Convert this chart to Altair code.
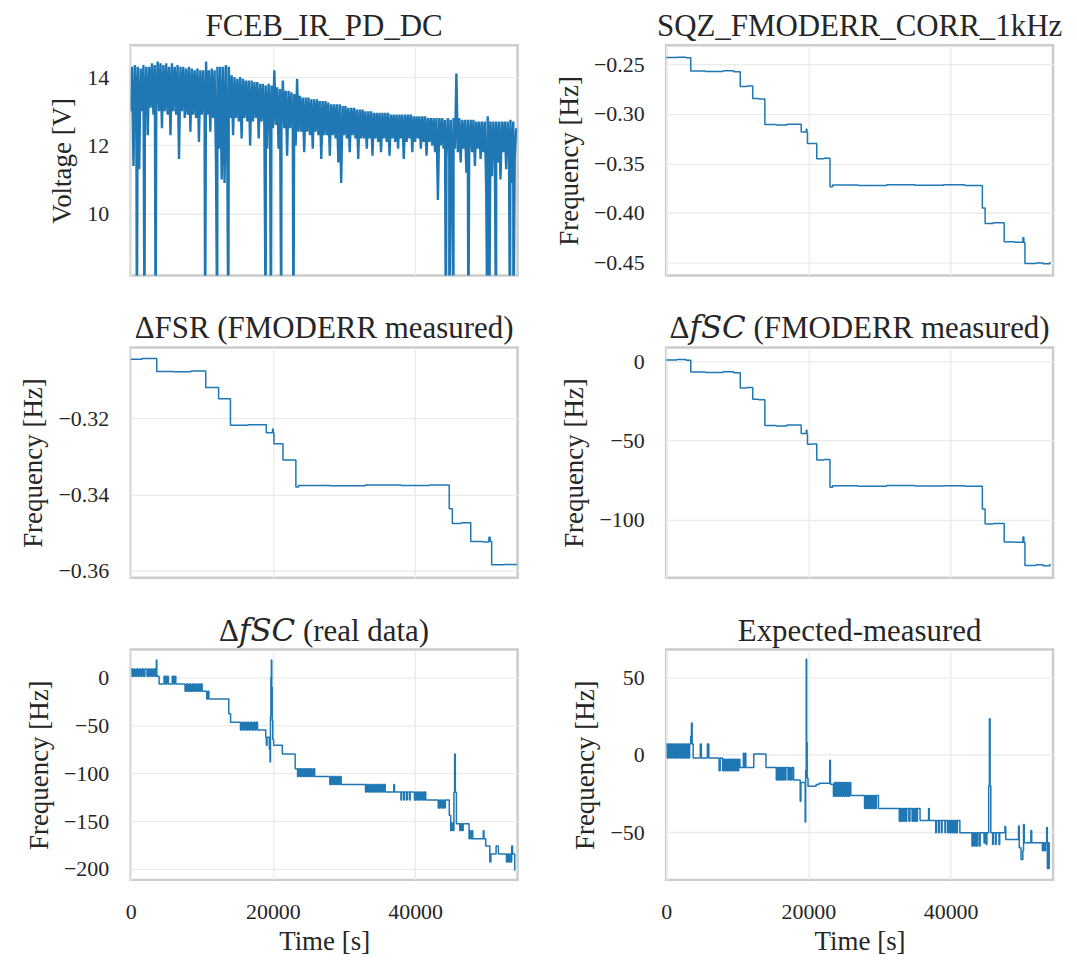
import altair as alt
import pandas as pd

FONT = "Liberation Serif"
TITLE_FONT = "Liberation Serif, DejaVu Serif, serif"
LINE = "#1f77b4"
TXT = "#262626"
X_DOMAIN = [0, 54400]
X_TICKS = [0, 20000, 40000]

# ---- FCEB_IR_PD_DC (noisy band) ----
# lower and upper excursions of the noisy trace, sampled alternately every 200 s
FCEB_LOW_T = list(range(0, 54400, 400))
FCEB_LOW = [13.0, 11.4, 13.1, 11.3, 13.0, 13.1, 12.3, 13.1, 12.9, 13.0,
            13.0, 12.5, 13.0, 12.9, 12.3, 13.0, 12.9, 11.6, 13.0, 12.8,
            12.9, 12.4, 12.9, 12.8, 12.1, 12.9, 12.8, 12.9, 12.4, 12.8,
            11.5, 11.9, 11.0, 10.9, 11.3, 12.8, 12.3, 12.8, 12.7, 12.2,
            12.8, 12.7, 12.0, 12.7, 12.8, 12.2, 12.7, 12.6, 11.9, 12.7,
            12.5, 12.6, 11.9, 12.5, 12.5, 11.7, 12.5, 12.4, 12.0, 12.4,
            12.4, 11.8, 12.4, 12.3, 11.9, 12.4, 12.3, 11.6, 12.3, 12.3,
            11.7, 12.3, 12.2, 11.5, 10.9, 12.3, 12.2, 11.8, 12.3, 12.2,
            11.6, 12.2, 12.2, 11.9, 12.2, 11.7, 12.2, 12.1, 11.8, 12.2,
            12.1, 11.7, 12.2, 12.1, 11.9, 12.2, 11.6, 12.1, 12.2, 11.8,
            12.1, 12.2, 11.9, 12.1, 11.7, 12.1, 12.0, 11.8, 10.4, 12.0,
            11.9, 11.6, 11.9, 11.3, 11.9, 11.8, 11.5, 11.9, 11.2, 11.9,
            11.8, 11.4, 11.9, 11.6, 11.8, 10.6, 11.9, 11.1, 11.8, 11.5,
            11.0, 11.8, 11.3, 11.8, 10.9, 11.6]
FCEB_HIGH_T = list(range(200, 54400, 400))
FCEB_HIGH = [14.3, 14.35, 14.3, 14.25, 14.35, 14.3, 14.3, 14.4, 14.35, 14.45,
             14.4, 14.35, 14.4, 14.3, 14.4, 14.3, 14.35, 14.3, 14.3, 14.25,
             14.3, 14.25, 14.2, 14.25, 14.2, 14.2, 14.45, 14.2, 14.25, 14.2,
             14.3, 14.3, 14.3, 14.35, 14.3, 14.05, 14.0, 13.95, 14.0, 13.95,
             13.9, 13.9, 13.9, 13.85, 13.85, 13.8, 13.8, 13.75, 13.8, 13.75,
             14.2, 13.7, 13.65, 13.9, 13.6, 13.6, 13.55, 13.5, 13.95, 13.45,
             13.4, 13.4, 13.4, 13.35, 13.35, 13.35, 13.3, 13.3, 13.3, 13.25,
             13.2, 13.2, 13.2, 13.2, 13.15, 13.15, 13.1, 13.1, 13.1, 13.05,
             13.05, 13.05, 13.0, 13.0, 13.0, 12.95, 12.95, 12.95, 12.95, 12.95,
             12.95, 12.9, 12.9, 12.9, 12.9, 12.9, 12.9, 12.9, 12.9, 12.85,
             12.85, 12.85, 12.85, 12.85, 12.8, 12.8, 12.8, 12.8, 12.8, 12.8,
             12.75, 12.8, 12.75, 12.8, 14.1, 12.8, 12.75, 12.75, 12.75, 12.75,
             12.75, 12.7, 12.7, 12.7, 12.7, 12.85, 12.7, 12.7, 12.7, 12.7,
             12.7, 12.7, 12.7, 12.75, 12.7, 12.5]
# deep drop-outs that leave the plotted range
FCEB_DROP_T = [877, 1948, 3506, 10470, 12175, 13733, 18993, 19724, 21185, 22889,
               44317, 44804, 45388, 47482, 50161, 50405, 51379, 53327, 53814]
FCEB_DROP_V = [6.0, 6.0, 6.0, 6.0, 6.0, 6.0, 6.0, 6.0, 6.0, 6.0,
               6.0, 6.0, 6.0, 6.0, 6.0, 6.0, 6.0, 6.0, 6.0]

# ---- SQZ_FMODERR_CORR_1kHz ----
SQZ_PTS = [(0, -0.2432), (1500, -0.2428), (2800, -0.2435), (3460, -0.2568), (5500, -0.2572),
           (8000, -0.2565), (9500, -0.2575), (10420, -0.2723), (11400, -0.2718), (12175, -0.2845),
           (13000, -0.2850), (13880, -0.3108), (15500, -0.3112), (17000, -0.3105), (18990, -0.3182),
           (19700, -0.3155), (19800, -0.3182), (19870, -0.3300), (20500, -0.3298), (21180, -0.3452),
           (22200, -0.3448), (23035, -0.3735), (23400, -0.3718), (27000, -0.3722), (31000, -0.3715),
           (35000, -0.3720), (39000, -0.3716), (42000, -0.3722), (44460, -0.3950), (44850, -0.4105),
           (46000, -0.4098), (47530, -0.4290), (49000, -0.4295), (50160, -0.4250), (50300, -0.4300),
           (50450, -0.4510), (52000, -0.4505), (53000, -0.4512), (53960, -0.4495)]

# ---- Delta FSR (FMODERR measured) ----
FSR_PTS = [(0, -0.3045), (1600, -0.3043), (3670, -0.3077), (6000, -0.3078), (8500, -0.3076),
           (10560, -0.3119), (12370, -0.3149), (14030, -0.3218), (16500, -0.3217), (19070, -0.3238),
           (19950, -0.3228), (20050, -0.3238), (20150, -0.3267), (21420, -0.3309), (23230, -0.3380),
           (23600, -0.3376), (28000, -0.3377), (33000, -0.3375), (38000, -0.3376), (42000, -0.3375),
           (44790, -0.3437), (45230, -0.3476), (46500, -0.3474), (47820, -0.3523), (49500, -0.3524),
           (50370, -0.3512), (50550, -0.3523), (50760, -0.3584), (52500, -0.3583), (54280, -0.3582)]

# ---- Delta f_SC (FMODERR measured) ----
FSC_PTS = [(0, 1.0), (1500, 1.2), (2800, 0.8), (3460, -6.7), (5500, -7.0), (8000, -6.5),
           (9500, -7.2), (10420, -16.8), (11400, -16.5), (12175, -23.9), (13000, -24.2),
           (13880, -40.5), (15500, -40.8), (17000, -40.2), (18990, -45.5), (19700, -43.5),
           (19800, -45.5), (19870, -52.4), (20500, -52.2), (21180, -62.3), (22200, -62.0),
           (23035, -79.5), (23400, -78.5), (27000, -78.8), (31000, -78.4), (35000, -78.7),
           (39000, -78.5), (42000, -78.9), (44460, -93.3), (44850, -102.7), (46000, -102.4),
           (47530, -114.1), (49000, -114.3), (50160, -111.0), (50300, -114.3), (50450, -128.9),
           (52000, -128.5), (53000, -129.2), (53960, -128.0)]

# ---- Delta f_SC (real data) ----
REAL_PTS = [(0, 8.7), (200, 1), (400, 8.7), (600, 1), (800, 8.7), (1000, 1), (1200, 8.7), (1400, 1),
            (1600, 8.7), (1800, 1), (2000, 8.7), (2300, 1), (2500, 8.7), (2700, 1), (2900, 8.7),
            (3100, 1), (3300, 8.7), (3500, 1), (3560, 10), (3620, 18), (3680, 1), (4000, -7),
            (4700, 1), (4900, -7), (5100, 1), (5300, -7), (5850, 1), (6050, -7), (6200, 1), (6350, -7),
            (7650, -14.6), (7850, -7), (8050, -14.6), (8250, -7), (8450, -14.6), (8650, -7),
            (8850, -14.6), (9050, -7), (9250, -14.6), (9450, -7), (9650, -14.6), (9850, -7),
            (10050, -14.6), (10700, -22.6), (10850, -14.6), (11000, -22.6), (13800, -38), (14050, -47),
            (15440, -55), (15640, -47), (15840, -55), (16040, -47), (16240, -55), (16440, -47),
            (16640, -55), (16840, -47), (17040, -55), (17240, -47), (17440, -55), (17640, -47),
            (17840, -55), (18990, -62.5), (19080, -71), (19180, -62.5), (19500, -75), (19600, -88.5),
            (19660, -40), (19720, 0), (19780, 18), (19840, -10), (19900, -45), (19980, -65),
            (20100, -71), (21330, -80), (23130, -95.5), (23470, -103.5), (23670, -95.5),
            (23870, -103.5), (24070, -95.5), (24270, -103.5), (24470, -95.5), (24670, -103.5),
            (24870, -95.5), (25070, -103.5), (25270, -95.5), (25470, -103.5), (25670, -95.5),
            (25870, -103.5), (28000, -111.8), (28200, -103.5), (28400, -111.8), (28600, -103.5),
            (28800, -111.8), (29000, -103.5), (29200, -111.8), (29400, -103.5), (29600, -111.8),
            (33020, -119.8), (33220, -111.8), (33420, -119.8), (33620, -111.8), (33820, -119.8),
            (34020, -111.8), (34220, -119.8), (34420, -111.8), (34620, -119.8), (34820, -111.8),
            (35020, -119.8), (35220, -111.8), (35420, -119.8), (35620, -111.8), (35790, -119.8),
            (37000, -111.8), (37100, -119.8), (38000, -128), (38100, -119.8), (38400, -128),
            (38500, -119.8), (38800, -128), (38900, -119.8), (39200, -128), (39300, -119.8),
            (39900, -128), (40100, -119.8), (40300, -128), (40500, -119.8), (40700, -128),
            (40900, -119.8), (41100, -128), (41300, -119.8), (41490, -128), (43250, -136.5),
            (43450, -128), (43650, -136.5), (43850, -128), (44050, -136.5), (44250, -128),
            (44800, -144), (45000, -160), (45150, -152), (45300, -160), (45450, -120), (45550, -80),
            (45650, -120), (45800, -152.8), (46270, -160), (46400, -152.8), (46600, -160),
            (46750, -152.8), (47580, -168.4), (47700, -160), (47850, -168.4), (48000, -160),
            (48100, -168.4), (49580, -160), (49680, -168.4), (49920, -176), (50500, -192.7),
            (50650, -184.4), (51380, -176), (51700, -184.4), (52840, -192.7), (53000, -184.4),
            (53150, -192.7), (53300, -184.4), (53470, -192.7), (53570, -176), (53700, -184.4),
            (54000, -201), (54100, -201)]

# ---- Expected-measured ----
EXP_PTS = [(0, 6.9), (150, -2.1), (300, 6.9), (450, -2.1), (600, 6.9), (750, -2.1), (900, 6.9),
           (1050, -2.1), (1200, 6.9), (1350, -2.1), (1500, 6.9), (1650, -2.1), (1800, 6.9),
           (1950, -2.1), (2100, 6.9), (2250, -2.1), (2400, 6.9), (2550, -2.1), (2700, 6.9),
           (2850, -2.1), (3000, 6.9), (3150, -2.1), (3300, 6.9), (3450, 12), (3560, 20.4),
           (3660, 6.9), (3800, -2.1), (4800, 6.9), (4950, -2.1), (5800, 6.9), (6000, -2.1),
           (7450, -10.3), (7600, -2.1), (7940, -10.3), (8100, -3), (8250, -10.3), (8400, -3),
           (8550, -10.3), (8700, -3), (8850, -10.3), (9000, -3), (9150, -10.3), (9300, -3),
           (9450, -10.3), (9600, -3), (9750, -10.3), (9900, -3), (10050, -10.3), (10200, -3),
           (10370, -8.2), (10860, 0.9), (10950, -8.2), (11100, 0.9), (11200, -8.2), (12320, 0.4),
           (14030, -8.2), (15490, -16.3), (15640, -8.2), (15790, -16.3), (15940, -8.2),
           (16090, -16.3), (16240, -8.2), (16390, -16.3), (16540, -8.2), (16690, -16.3),
           (16840, -8.2), (17140, -16.3), (17300, -8.2), (17500, -16.3), (17700, -8.2),
           (17920, -16.3), (18850, -30), (18950, -18), (19550, -43.4), (19620, -10), (19700, 61.6),
           (19760, 8), (19830, -15), (19950, -20.4), (21090, -19.3), (21500, -18.5), (23000, -3.6),
           (23100, -19), (23520, -26.8), (23670, -18), (23820, -26.8), (23970, -18), (24120, -26.8),
           (24270, -18), (24420, -26.8), (24570, -18), (24720, -26.8), (24870, -18), (25020, -26.8),
           (25170, -18), (25320, -26.8), (25470, -18), (25620, -26.8), (25800, -18), (25960, -26.4),
           (27900, -34.8), (28050, -26.4), (28200, -34.8), (28350, -26.4), (28500, -34.8),
           (28650, -26.4), (28800, -34.8), (28950, -26.4), (29100, -34.8), (29250, -26.4),
           (29400, -34.8), (29550, -26.4), (29850, -34.8), (32780, -42.9), (32930, -34.8),
           (33080, -42.9), (33230, -34.8), (33380, -42.9), (33530, -34.8), (33680, -42.9),
           (33830, -34.8), (34130, -42.9), (34280, -34.8), (34580, -42.9), (34730, -34.8),
           (34880, -42.9), (35030, -34.8), (35180, -42.9), (35330, -34.8), (35700, -42.5),
           (36900, -34.8), (37000, -42.5), (37900, -50.4), (38000, -42.5), (38300, -50.4),
           (38400, -42.5), (38700, -50.4), (38800, -42.5), (39200, -50.4), (39300, -42.5),
           (39600, -50.4), (39750, -42.5), (39900, -50.4), (40050, -42.5), (40200, -50.4),
           (40350, -42.5), (40500, -50.4), (40650, -42.5), (40800, -50.4), (40950, -42.5),
           (41300, -50.4), (43000, -59), (43150, -50.4), (43300, -59), (43450, -50.4), (43600, -59),
           (43750, -50.4), (44000, -59), (44150, -50.4), (44700, -57), (44800, -50.4), (45000, -58),
           (45100, -50.4), (45350, -20), (45450, 23.2), (45550, -20), (45650, -50.4), (45900, -58),
           (46000, -50.4), (46300, -58), (46400, -50.4), (46800, -58), (46900, -50.4),
           (47630, -46.4), (47750, -54.7), (49550, -46), (49650, -60), (49900, -67.6),
           (50150, -62), (50250, -45), (50350, -56.9), (51280, -49), (51400, -56.9), (52900, -62),
           (53050, -56.9), (53200, -62), (53350, -56.9), (53500, -47), (53600, -73.4),
           (53750, -56.9), (53860, -73.4), (53950, -73.4)]

TITLES = ["FCEB_IR_PD_DC", "SQZ_FMODERR_CORR_1kHz", "\u0394FSR (FMODERR measured)",
          "\u0394\U0001D453\U0001D446\U0001D436 (FMODERR measured)",
          "\u0394\U0001D453\U0001D446\U0001D436 (real data)", "Expected-measured"]
YTITLES = ["Voltage [V]", "Frequency [Hz]", "Frequency [Hz]", "Frequency [Hz]",
           "Frequency [Hz]", "Frequency [Hz]"]
YDOMAINS = [[8.19, 14.93], [-0.4631, -0.2308], [-0.3618, -0.3014], [-136.7, 8.9],
            [-211.4, 29.0], [-80.8, 67.9]]
YTICKS = [[10, 12, 14], [-0.45, -0.40, -0.35, -0.30, -0.25], [-0.36, -0.34, -0.32],
          [-100, -50, 0], [-200, -150, -100, -50, 0], [-50, 0, 50]]
YFMT = ["d", ".2f", ".2f", "d", "d", "d"]


def frame_pts(pts):
    return pd.DataFrame({"t": [p[0] for p in pts], "v": [p[1] for p in pts]})


fceb = pd.DataFrame({
    "t": FCEB_LOW_T + FCEB_HIGH_T + FCEB_DROP_T,
    "v": FCEB_LOW + FCEB_HIGH + FCEB_DROP_V,
}).sort_values("t", kind="stable")
frames = [fceb, frame_pts(SQZ_PTS), frame_pts(FSR_PTS), frame_pts(FSC_PTS),
          frame_pts(REAL_PTS), frame_pts(EXP_PTS)]
interps = ["linear", "step-after", "step-after", "step-after", "step-after", "step-after"]
widths = [2.4, 1.5, 1.5, 1.5, 1.5, 1.5]

panels = []
for i in range(6):
    bottom = i >= 4
    if bottom:
        xaxis = alt.Axis(values=X_TICKS, format="d", title="Time [s]", titlePadding=6,
                         labelFlush=False)
    else:
        xaxis = alt.Axis(values=X_TICKS, labels=False, title=None)
    yaxis = alt.Axis(values=YTICKS[i], format=YFMT[i], title=YTITLES[i])
    ch = (
        alt.Chart(frames[i], title=TITLES[i])
        .mark_line(color=LINE, strokeWidth=widths[i], clip=True, interpolate=interps[i],
                   strokeJoin="bevel")
        .encode(
            x=alt.X("t:Q", scale=alt.Scale(domain=X_DOMAIN, nice=False, zero=False), axis=xaxis),
            y=alt.Y("v:Q", scale=alt.Scale(domain=YDOMAINS[i], nice=False, zero=False), axis=yaxis),
        )
        .properties(width=388, height=231)
    )
    panels.append(ch)

chart = (
    alt.concat(*panels, columns=2, align="each", bounds="flush",
               spacing={"row": 72, "column": 149})
    .properties(padding={"left": 10, "top": 0, "right": 5, "bottom": 0})
    .configure_view(stroke="#cccccc", strokeWidth=2.5)
    .configure_axis(
        labelFont=FONT, titleFont=FONT, labelFontSize=22, titleFontSize=27,
        labelColor=TXT, titleColor=TXT, titleFontWeight="normal",
        gridColor="#ebebeb", gridWidth=1.3, domain=False, ticks=False,
        labelPadding=22, titlePadding=10,
    )
    .configure_title(font=TITLE_FONT, fontSize=31, color=TXT, fontWeight="normal",
                     anchor="middle", frame="group", offset=2)
)

chart.save("out.html", embed_options={"renderer": "svg", "actions": False})
